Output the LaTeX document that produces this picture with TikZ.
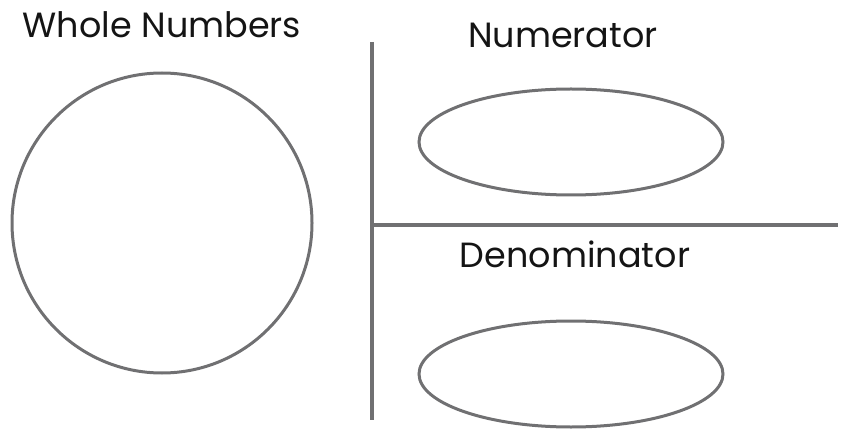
\documentclass[tikz,border=0pt]{standalone}
\usepackage{fontspec}
\setmainfont{Poppins}
\usepackage{tikz}
\usetikzlibrary{shapes.geometric}
\definecolor{linegray}{RGB}{112,112,114}
\definecolor{textdark}{RGB}{20,20,20}
\tikzset{
  part/.style={ellipse, draw=linegray, line width=3pt, minimum width=304pt,
               minimum height=106pt, inner sep=0pt},
  whole/.style={circle, draw=linegray, line width=3pt, minimum size=300pt,
                inner sep=0pt},
  label/.style={font=\fontsize{35}{38}\selectfont, text=textdark, anchor=base,
                inner sep=0pt},
  bar/.style={draw=linegray, line width=3.5pt},
}
\begin{document}
\begin{tikzpicture}[x=1pt, y=-1pt]
  \useasboundingbox (0,0) rectangle (845,430);
  \node[label]  (wholelbl) at (162,38)  {Whole Numbers};
  \node[whole]  (whole)    at (162,223) {};
  \node[label]  (numlbl)   at (563,48)  {Numerator};
  \node[part]   (num)      at (571,142) {};
  \node[label]  (denlbl)   at (575,267) {Denominator};
  \node[part]   (den)      at (571,374) {};

  \coordinate (vtop) at (372,42);
  \coordinate (vbot) at (372,420);
  \coordinate (hleft) at (372,225);
  \coordinate (hright) at (838,225);
  \draw[bar] (vtop) -- (vbot);
  \draw[bar] (hleft) -- (hright);
\end{tikzpicture}
\end{document}
